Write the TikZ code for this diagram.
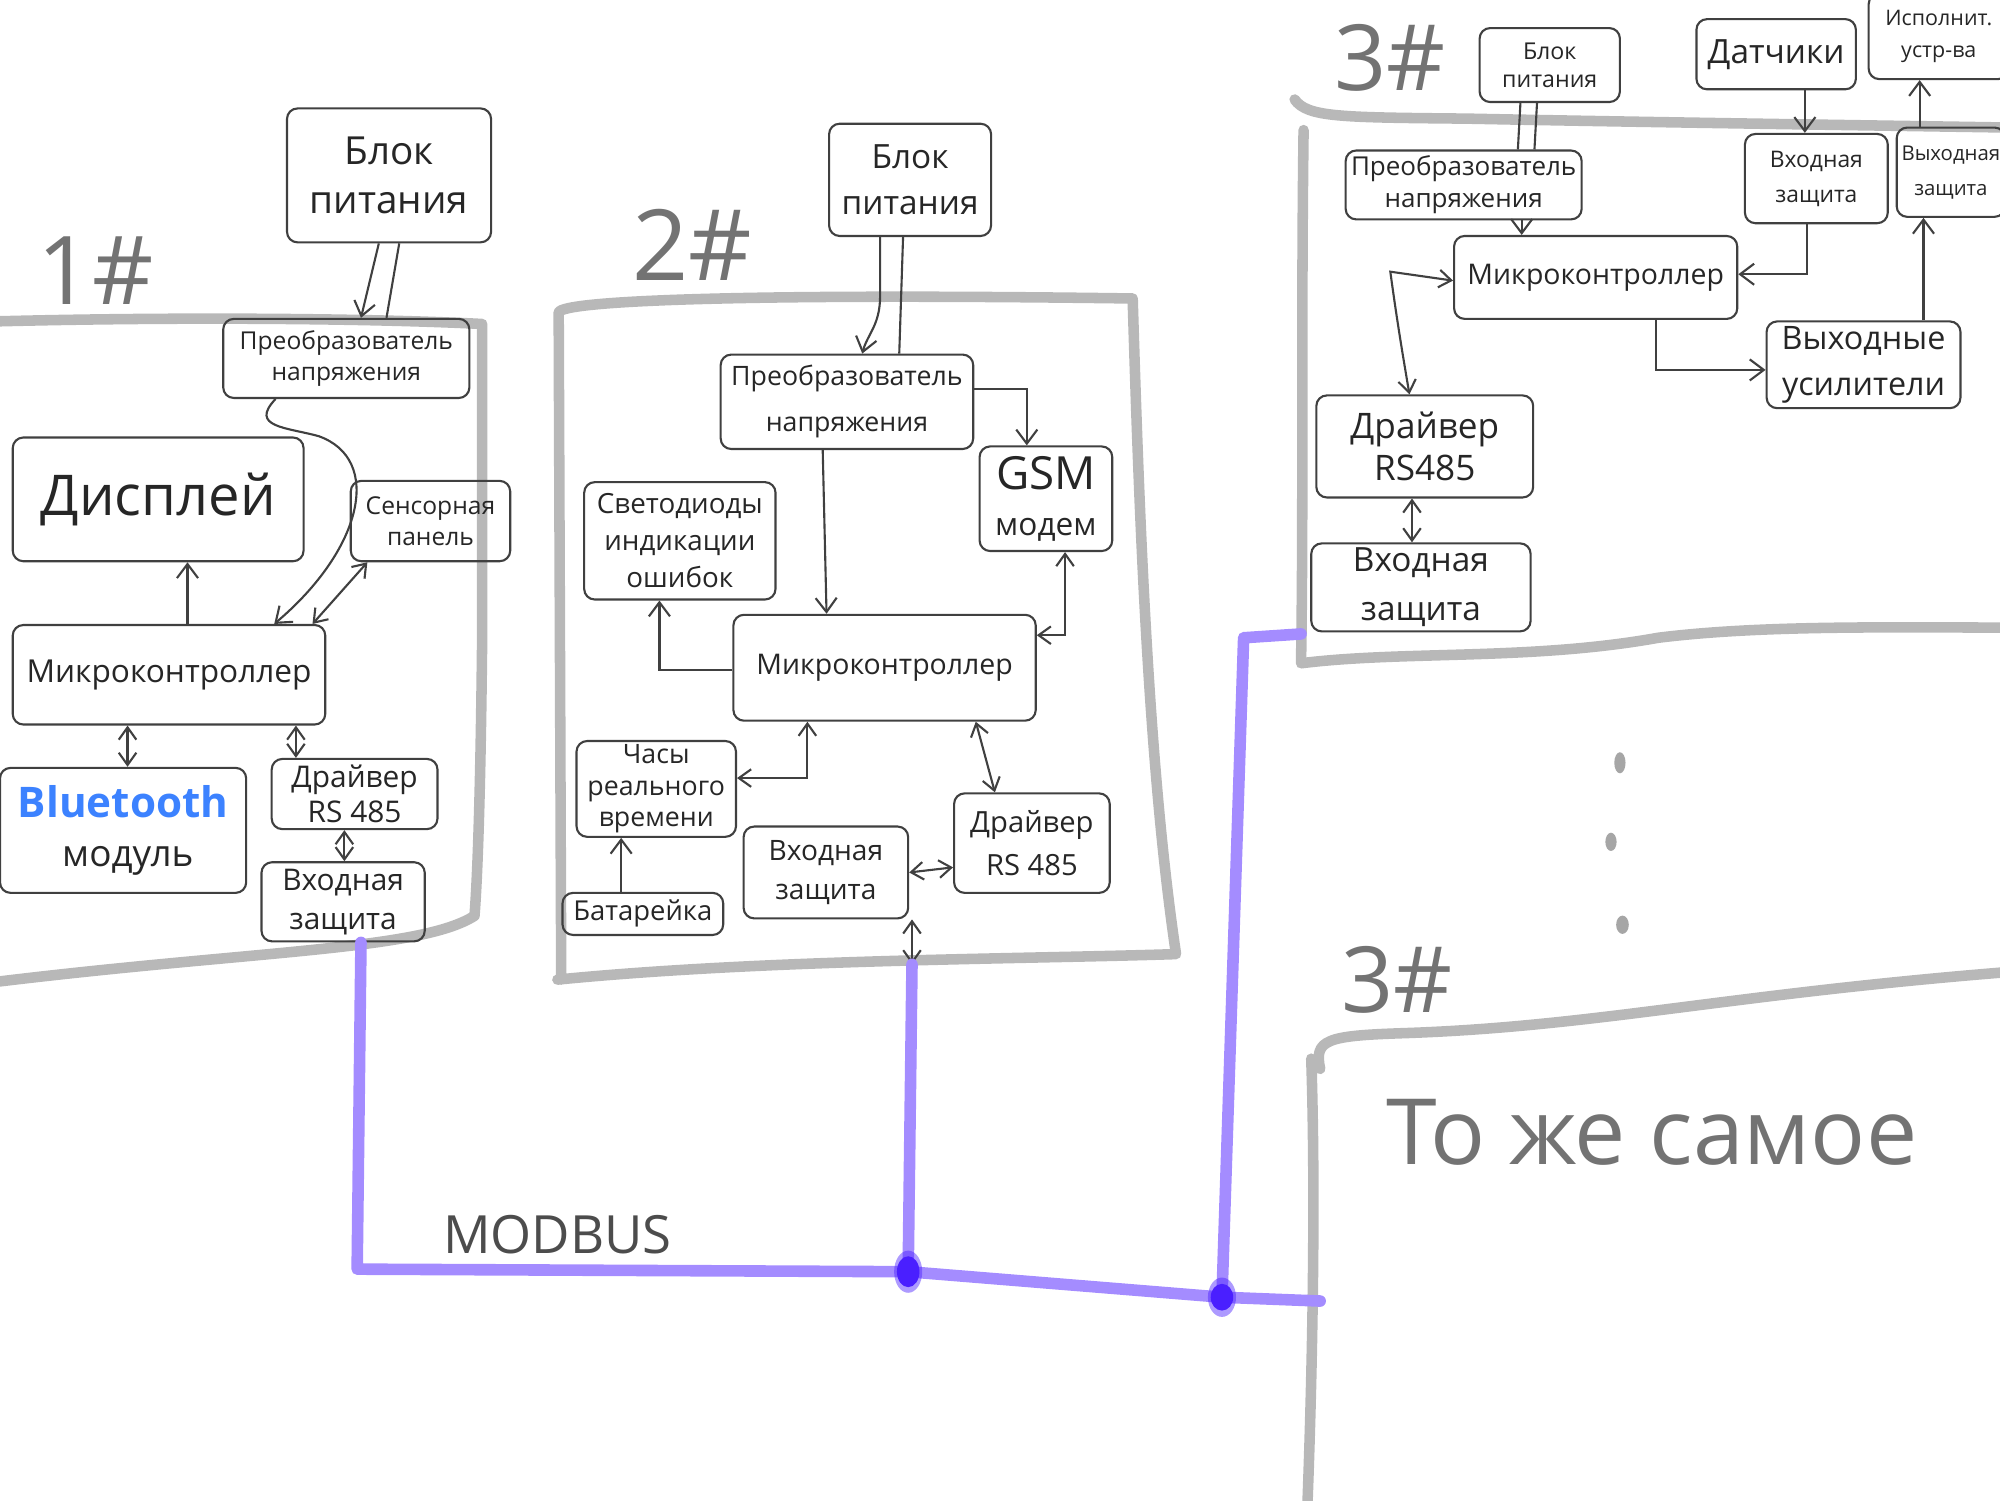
\documentclass[tikz,border=0pt]{standalone}
\usepackage{fontspec}
\setmainfont{Open Sans}
\usetikzlibrary{arrows.meta}
\definecolor{busviolet}{HTML}{A48CFF}
\definecolor{busdot}{HTML}{4A1FFF}
\definecolor{btblue}{HTML}{3C82FF}
\definecolor{panelgray}{HTML}{B8B8B8}
\def\U{0.012755cm}
\newcommand\fs[2]{\fontsize{#1}{#2}\selectfont}
\tikzset{
  box/.style={draw=black!75, line width=0.6pt, rounded corners=3pt, align=center, inner sep=1pt, text=black!85, font={\fs{8}{10}}},
  con/.style={draw=black!75, line width=0.6pt},
  arr/.style={con, -{Straight Barb[length=4pt,width=6pt]}},
  darr/.style={con, {Straight Barb[length=3.5pt,width=5pt]}-{Straight Barb[length=3.5pt,width=5pt]}},
  panel/.style={draw=panelgray, line width=3pt, line cap=round, line join=round},
  bus/.style={draw=busviolet, line width=3.3pt, line cap=round, line join=round},
  lbl/.style={text=black!55, inner sep=0pt},
}
\newcommand\bx[7][]{\node[box,minimum width={(#5-#3)*\U},minimum height={(#6-#4)*\U},#1] (#2) at ({(#3+#5)/2},{(#4+#6)/2}) {#7};}
\begin{document}
\begin{tikzpicture}[x=0.012755cm, y=-0.012755cm]
\useasboundingbox (0,0) rectangle (1568,1176);
\clip (0,0) rectangle (1568,1176);

% ---------- panels ----------
\draw[panel] (-5,252) .. controls (150,248) and (300,250) .. (378,254) -- (378,500) .. controls (377,600) and (375,680) .. (372,718) .. controls (330,745) and (200,745) .. (-5,770);
\draw[panel] (440,768) -- (438,245) .. controls (440,235) and (600,230) .. (888,234) .. controls (893,400) and (900,600) .. (922,748) .. controls (800,752) and (600,752) .. (437,768);
\draw[panel] (1015,78) .. controls (1025,92) and (1050,92) .. (1150,93) .. controls (1300,96) and (1450,98) .. (1575,100);
\draw[panel] (1022,102) .. controls (1020,250) and (1022,400) .. (1020,520) .. controls (1100,510) and (1200,518) .. (1300,500) .. controls (1380,490) and (1480,492) .. (1575,492);
\draw[panel] (1035,838) .. controls (1030,815) and (1040,812) .. (1100,810) .. controls (1250,805) and (1350,780) .. (1575,762);
\draw[panel] (1028,830) .. controls (1032,950) and (1028,1100) .. (1025,1180);

% ---------- labels ----------
\node[lbl, font={\fs{27}{27}}] (l1) at (75,212) {1\#};
\node[lbl, font={\fs{28}{28}}] (l2) at (543,192) {2\#};
\node[lbl, font={\fs{26}{26}}] (l3) at (1090,45) {3\#};
\node[lbl, font={\fs{26}{26}}] (l4) at (1095,768) {3\#};
\node[lbl, font={\fs{26}{26}}] (same) at (1295,888) {То же самое};
\node[lbl, text=black!70, font={\fs{15}{15}}] (modbus) at (437,968) {MODBUS};

% ---------- panel 1 ----------
\bx[font={\fs{11}{14}}]{psu1}{225}{85}{385}{190}{Блок\\питания}
\bx[font={\fs{7}{9}}]{conv1}{175}{250}{368}{312}{Преобразователь\\напряжения}
\bx[font={\fs{16}{18}}]{disp}{10}{343}{238}{440}{Дисплей}
\bx[font={\fs{7}{9}}]{sens}{275}{377}{400}{440}{Сенсорная\\панель}
\bx[font={\fs{9}{11}}]{mc1}{10}{490}{255}{568}{Микроконтроллер}
\bx[font={\fs{10.5}{14}}, align=left]{bt}{0}{602}{193}{700}{{\color{btblue}\bfseries\fs{12}{14}Bluetooth}\\\hspace*{1.2em}модуль}
\bx[font={\fs{8.5}{10}}]{drv1}{213}{595}{343}{650}{Драйвер\\RS 485}
\bx[font={\fs{8.5}{11}}]{inp1}{205}{676}{333}{738}{Входная\\защита}

\draw[arr] (297,0 |- psu1.south) -- (283,0 |- conv1.north);
\draw[con] (313,0 |- psu1.south) -- (303,0 |- conv1.north);
\draw[arr] (216,0 |- conv1.south) .. controls (195,335) and (225,335) .. (250,342) .. controls (300,360) and (285,430) .. (215,0 |- mc1.north);
\draw[arr] (147,0 |- mc1.north) -- (147,0 |- disp.south);
\draw[darr] (245,0 |- mc1.north) -- (288,0 |- sens.south);
\draw[darr] (100,0 |- mc1.south) -- (100,0 |- bt.north);
\draw[darr] (232,0 |- mc1.south) -- (232,0 |- drv1.north);
\draw[darr] (270,0 |- drv1.south) -- (270,0 |- inp1.north);

% ---------- panel 2 ----------
\bx[font={\fs{9.5}{13}}]{psu2}{650}{97}{777}{185}{Блок\\питания}
\bx[font={\fs{7.6}{13}}]{conv2}{565}{278}{763}{352}{Преобразователь\\напряжения}
\bx[font={\fs{9}{13}}]{gsm}{768}{350}{872}{432}{{\fs{13}{15}GSM}\\модем}
\bx[font={\fs{7.9}{10.5}}]{led}{458}{378}{608}{470}{Светодиоды\\индикации\\ошибок}
\bx[font={\fs{8.1}{10}}]{mc2}{575}{482}{812}{565}{Микроконтроллер}
\bx[font={\fs{7.6}{9}}]{rtc}{452}{582}{577}{655}{Часы\\реального\\времени}
\bx[font={\fs{7.8}{9}}]{bat}{441}{700}{567}{733}{Батарейка}
\bx[font={\fs{8}{11}}]{inp2}{583}{648}{712}{720}{Входная\\защита}
\bx[font={\fs{8.3}{12}}]{drv2}{748}{622}{870}{700}{Драйвер\\RS 485}

\draw[arr] (690,0 |- psu2.south) -- (690,232) .. controls (690,255) and (680,262) .. (676,0 |- conv2.north);
\draw[con] (708,0 |- psu2.south) -- (705,0 |- conv2.north);
\draw[arr] (conv2.east |- 0,305) -| (805,0 |- gsm.north);
\draw[arr] (645,0 |- conv2.south) -- (648,0 |- mc2.north);
\draw[arr] (mc2.west |- 0,525) -| (517,0 |- led.south);
\draw[darr] (mc2.east |- 0,498) -| (835,0 |- gsm.south);
\draw[darr] (633,0 |- mc2.south) |- (rtc.east |- 0,610);
\draw[arr] (487,0 |- bat.north) -- (487,0 |- rtc.south);
\draw[darr] (765,0 |- mc2.south) -- (780,0 |- drv2.north);
\draw[darr] (inp2.east |- 0,684) -- (drv2.west |- 0,680);
\coordinate (b2) at (715,756);
\draw[darr] (715,0 |- inp2.south) -- (b2);

% ---------- panel 3 ----------
\bx[font={\fs{6.6}{8}}]{psu3}{1160}{22}{1270}{80}{Блок\\питания}
\bx[font={\fs{9.5}{11}}]{dat}{1330}{15}{1455}{70}{Датчики}
\bx[font={\fs{6.1}{9}}]{act}{1465}{-5}{1575}{62}{Исполнит.\\устр-ва}
\bx[font={\fs{7.4}{9}}]{conv3}{1055}{118}{1240}{172}{Преобразователь\\напряжения}
\bx[font={\fs{6.5}{10}}]{inp3a}{1368}{105}{1480}{175}{Входная\\защита}
\bx[font={\fs{5.8}{10}}]{outp}{1487}{100}{1572}{170}{Выходная\\защита}
\bx[font={\fs{8.1}{10}}]{mc3}{1140}{185}{1362}{250}{Микроконтроллер}
\bx[font={\fs{9.2}{13}}]{amp}{1385}{252}{1537}{320}{Выходные\\усилители}
\bx[font={\fs{10}{12}}]{drv3}{1032}{310}{1202}{390}{Драйвер\\RS485}
\bx[font={\fs{9.5}{14}}]{inp3b}{1028}{426}{1200}{495}{Входная\\защита}

\draw[con] (1192,0 |- psu3.south) -- (1190,0 |- conv3.north);
\draw[con] (1205,0 |- psu3.south) -- (1203,0 |- conv3.north);
\draw[arr] (1193,0 |- conv3.south) -- (1193,0 |- mc3.north);
\draw[arr] (1415,0 |- dat.south) -- (1415,0 |- inp3a.north);
\draw[arr] (1505,0 |- outp.north) -- (1505,0 |- act.south);
\draw[arr] (1417,0 |- inp3a.south) |- (mc3.east |- 0,215);
\draw[arr] (1508,0 |- amp.north) -- (1508,0 |- outp.south);
\draw[arr] (1298,0 |- mc3.south) |- (amp.west |- 0,290);
\draw[darr] (mc3.west |- 0,220) -- (1090,213) .. controls (1095,250) and (1100,280) .. (1105,0 |- drv3.north);
\draw[darr] (1107,0 |- drv3.south) -- (1107,0 |- inp3b.north);

% ---------- dots ----------
\fill[black!35] (1270,598) ellipse [x radius=1.6pt, y radius=3pt];
\fill[black!35] (1263,660) ellipse [x radius=1.6pt, y radius=2.6pt];
\fill[black!35] (1272,725) ellipse [x radius=1.8pt, y radius=2.6pt];

% ---------- MODBUS bus ----------
\coordinate (c1) at (280,995);
\coordinate (j1) at (712,997);
\coordinate (j2) at (958,1017);
\coordinate (bend) at (1035,1020);
\coordinate (p3port) at (1020,497);
\coordinate (c3) at (975,500);
\draw[bus] (283,0 |- inp1.south) -- (c1) -- (j1) -- (j2) -- (bend);
\draw[bus] (b2) -- (j1);
\draw[bus] (p3port) -- (c3) -- (j2);
\fill[busdot, opacity=0.45] (j1) ellipse [x radius=4pt, y radius=6pt];
\fill[busdot] (j1) ellipse [x radius=3.2pt, y radius=4.4pt];
\fill[busdot, opacity=0.45] (j2) ellipse [x radius=4pt, y radius=5.6pt];
\fill[busdot] (j2) ellipse [x radius=3.2pt, y radius=3.8pt];
\end{tikzpicture}
\end{document}
